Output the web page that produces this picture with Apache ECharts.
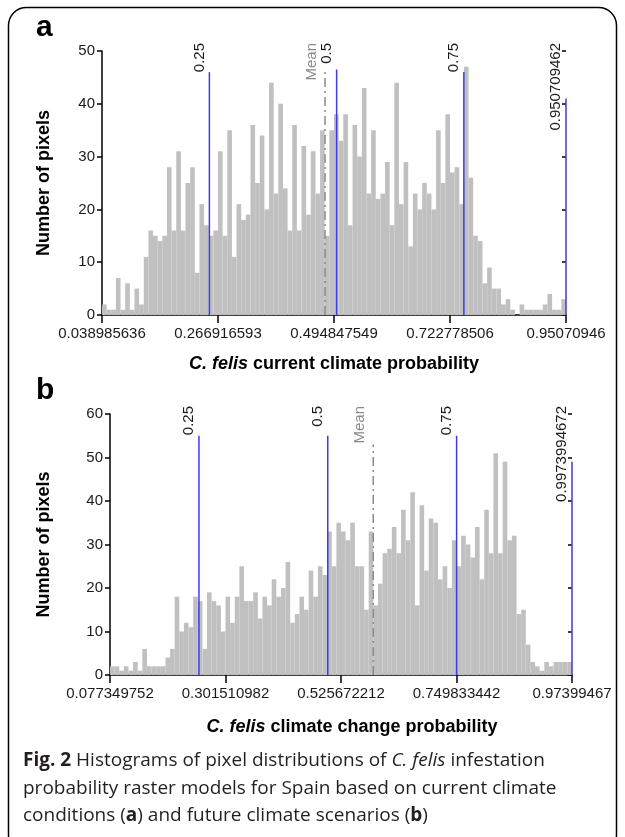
<!DOCTYPE html>
<html><head><meta charset="utf-8">
<script src="https://cdn.jsdelivr.net/npm/echarts@6/dist/echarts.min.js"></script>
<style>html,body{margin:0;padding:0;background:#fff}#c{width:625px;height:837px}</style>
</head><body><div id="c"></div>
<script>
// ---------- DATA ----------
// Panel a: current climate
const topRange = [0.038985636, 0.95070946];
const topCounts = [2,1,1,7,1,6,1,5,2,11, 16,15,14,15,28,16,31,16,25,28,
  8,21,17,15,16,31,15,35,11,21, 18,19,36,25,34,20,44,23,40,24,
  16,36,16,32,19,31,23,35,15,35, 38,33,38,17,36,30,43,23,35,22,
  23,29,17,44,21,29,13,23,20,25, 23,20,35,25,38,27,28,21,47,26,
  15,14,6,9,5,5,2,3,1,0, 2,1,1,1,1,2,4,1,1,3];
const topTickValues = [0.038985636, 0.266916593, 0.494847549, 0.722778506, 0.95070946];
const topTickLabels = ['0.038985636', '0.266916593', '0.494847549', '0.722778506', '0.95070946'];
const topYMax = 50;
const topQuantiles = [0.25, 0.5, 0.75, 0.950709462];
const topQuantileLabels = ['0.25', '0.5', '0.75', '0.950709462'];
const topQuantileTops = [46, 46.5, 46, 41];
const topMean = 0.4772;
const topMeanTop = 46;

// Panel b: climate change
const botRange = [0.077349752, 0.97399467];
const botCounts = [2,2,1,2,1,3,1,6,2,2, 2,2,4,6,18,10,12,11,18,17,
  6,19,17,16,10,18,12,18,25,17, 17,19,13,18,16,22,18,20,26,12,
  14,18,15,24,18,25,23,33,25,35, 33,31,35,25,25,15,33,16,21,28,
  29,34,28,38,31,42,16,39,24,36, 35,22,25,20,31,25,32,30,27,34,
  22,38,28,51,28,49,31,32,14,15, 7,3,2,1,3,2,3,3,3,3];
const botTickValues = [0.077349752, 0.301510982, 0.525672212, 0.749833442, 0.97399467];
const botTickLabels = ['0.077349752', '0.301510982', '0.525672212', '0.749833442', '0.97399467'];
const botYMax = 60;
const botQuantiles = [0.25, 0.5, 0.75, 0.97399467];
const botQuantileLabels = ['0.25', '0.5', '0.75', '0.9973994672'];
const botQuantileTops = [55, 55, 55, 49];
const botMean = 0.5883;
const botMeanTop = 53;

const meanLabel = 'Mean';
const yTitle = 'Number of pixels';
const topXTitle = '{i|C. felis} current climate probability';
const botXTitle = '{i|C. felis} climate change probability';
const captionText = '{b|Fig. 2} Histograms of pixel distributions of {i|C. felis} infestation\nprobability raster models for Spain based on current climate\nconditions ({b|a}) and future climate scenarios ({b|b})';

// ---------- HELPERS ----------
const FONT = '"Liberation Sans", Arial, Helvetica, sans-serif';
const CAPFONT = '"Open Sans", Lato, sans-serif';
const CAPSIZE = 19;
const BAR = '#c0c0c0';
const BLUE = '#3a3af5';
const GREY = '#8a8a8a';
const TXT = '#1a1a1a';

function bins(range, counts) {
  const w = (range[1] - range[0]) / counts.length;
  return counts.map((c, i) => [range[0] + i * w, range[0] + (i + 1) * w, c]);
}
function barRender(params, api) {
  const p0 = api.coord([api.value(0), 0]);
  const p1 = api.coord([api.value(1), api.value(2)]);
  return { type: 'rect', shape: { x: p0[0], y: p1[1], width: p1[0] - p0[0], height: p0[1] - p1[1] },
    style: { fill: BAR } };
}
function markerRender(labels) {
  return function (params, api) {
    const v = api.value(0), h = api.value(1), idx = api.value(2), kind = api.value(3);
    const p0 = api.coord([v, 0]);
    const p1 = api.coord([v, h]);
    const isMean = kind === 1;
    const cs = params.coordSys;
    const gap = isMean ? 6 : 2.5;
    return { type: 'group', children: [
      { type: 'line', shape: { x1: p0[0], y1: p0[1], x2: p1[0], y2: p1[1] },
        style: isMean ? { stroke: GREY, lineWidth: 1.5, lineDash: [9, 4, 2, 4] } : { stroke: BLUE, lineWidth: 1.5 } },
      { type: 'text', x: p0[0] - gap, y: cs.y - 8, rotation: Math.PI / 2,
        style: { text: isMean ? meanLabel : labels[idx], fill: isMean ? GREY : TXT,
          font: '15px ' + FONT, align: 'right', verticalAlign: 'bottom',
          textAlign: 'right', textVerticalAlign: 'bottom' } }
    ] };
  };
}
function markerData(qs, tops, mean, meanTop) {
  const d = qs.map((q, i) => [q, tops[i], i, 0]);
  d.push([mean, meanTop, 0, 1]);
  return d;
}
function labelFor(values, labels) {
  return function (v) {
    let best = 0;
    for (let i = 1; i < values.length; i++) if (Math.abs(values[i] - v) < Math.abs(values[best] - v)) best = i;
    return labels[best];
  };
}
function xAxisCfg(gridIndex, range, tv, tl, title, gap, pad) {
  return {
    type: 'value', gridIndex, min: range[0], max: range[1],
    axisLine: { show: true, lineStyle: { color: '#000', width: 1.5 } },
    axisTick: { show: true, length: 8, customValues: tv, lineStyle: { color: '#000', width: 1.5 } },
    axisLabel: { customValues: tv, formatter: labelFor(tv, tl), color: TXT, fontSize: 15, fontFamily: FONT, margin: 11 },
    splitLine: { show: false },
    name: title, nameLocation: 'middle', nameGap: gap,
    nameTextStyle: { color: '#000', fontSize: 18, fontWeight: 'bold', fontFamily: FONT, padding: pad,
      rich: { i: { fontStyle: 'italic', fontWeight: 'bold', fontSize: 18, fontFamily: FONT, color: '#000' } } }
  };
}
function yAxisCfg(gridIndex, max, gap) {
  return {
    type: 'value', gridIndex, min: 0, max, interval: 10,
    axisLine: { show: true, lineStyle: { color: '#000', width: 1.5 } },
    axisTick: { show: true, length: 5, lineStyle: { color: '#000', width: 1.5 } },
    axisLabel: { color: TXT, fontSize: 15, fontFamily: FONT, margin: 7 },
    splitLine: { show: false },
    name: yTitle, nameLocation: 'middle', nameGap: gap,
    nameTextStyle: { color: '#000', fontSize: 18, fontWeight: 'bold', fontFamily: FONT }
  };
}
function yInnerTicks(gridIndex, max) {
  return { type: 'value', gridIndex, min: 0, max, interval: 10,
    axisLine: { show: false }, axisLabel: { show: false }, splitLine: { show: false },
    axisTick: { show: true, inside: true, length: 4, lineStyle: { color: '#000', width: 1.5 } } };
}

const chart = echarts.init(document.getElementById('c'), null, { renderer: 'canvas' });
chart.setOption({
  animation: false,
  backgroundColor: '#fff',
  grid: [
    { left: 102, top: 51, width: 464, height: 264 },
    { left: 110, top: 414, width: 462, height: 261 }
  ],
  xAxis: [
    xAxisCfg(0, topRange, topTickValues, topTickLabels, topXTitle, 40, [0, 0, 0, 0]),
    xAxisCfg(1, botRange, botTickValues, botTickLabels, botXTitle, 43, [0, 0, 0, 22])
  ],
  yAxis: [
    yAxisCfg(0, topYMax, 49), yAxisCfg(1, botYMax, 57),
    yInnerTicks(0, topYMax), yInnerTicks(1, botYMax)
  ],
  series: [
    { type: 'custom', xAxisIndex: 0, yAxisIndex: 0, data: bins(topRange, topCounts), renderItem: barRender,
      encode: { x: [0, 1], y: 2 }, silent: true },
    { type: 'custom', xAxisIndex: 1, yAxisIndex: 1, data: bins(botRange, botCounts), renderItem: barRender,
      encode: { x: [0, 1], y: 2 }, silent: true },
    { type: 'custom', xAxisIndex: 0, yAxisIndex: 0, clip: false, data: markerData(topQuantiles, topQuantileTops, topMean, topMeanTop),
      renderItem: markerRender(topQuantileLabels), encode: { x: 0, y: 1 }, silent: true, z: 5 },
    { type: 'custom', xAxisIndex: 1, yAxisIndex: 1, clip: false, data: markerData(botQuantiles, botQuantileTops, botMean, botMeanTop),
      renderItem: markerRender(botQuantileLabels), encode: { x: 0, y: 1 }, silent: true, z: 5 }
  ],
  graphic: [
    { type: 'rect', shape: { x: 8.5, y: 7.5, width: 608, height: 845, r: 18 }, style: { fill: 'none', stroke: '#000', lineWidth: 1.5 }, silent: true },
    { type: 'text', x: 36, y: 43, style: { text: 'a', font: 'bold 30px ' + FONT, fill: '#000', textVerticalAlign: 'bottom', verticalAlign: 'bottom' } },
    { type: 'text', x: 36, y: 406, style: { text: 'b', font: 'bold 30px ' + FONT, fill: '#000', textVerticalAlign: 'bottom', verticalAlign: 'bottom' } },
    { type: 'text', x: 23, y: 747, style: { text: captionText, font: CAPSIZE + 'px ' + CAPFONT, fill: '#231f20', lineHeight: 27.5,
      rich: {
        b: { fontWeight: 'bold', fontSize: CAPSIZE, fontFamily: CAPFONT, lineHeight: 27.5, color: '#231f20' },
        i: { fontStyle: 'italic', fontSize: CAPSIZE, fontFamily: CAPFONT, lineHeight: 27.5, color: '#231f20' }
      } } }
  ]
});
</script>
</body></html>
